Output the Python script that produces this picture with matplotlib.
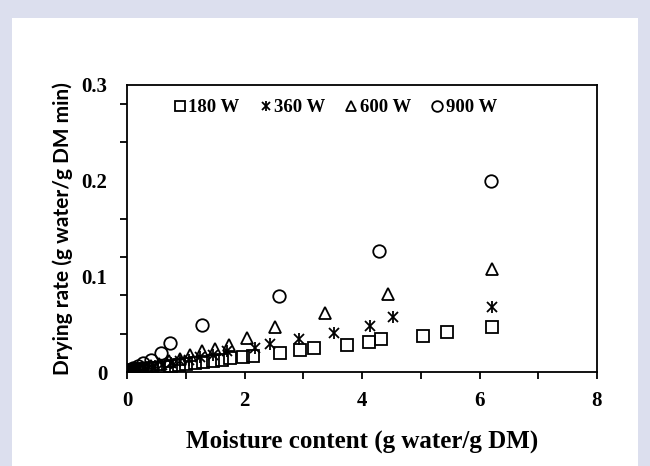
import matplotlib.pyplot as plt
from matplotlib.patches import Rectangle
from matplotlib.legend_handler import HandlerTuple
import numpy as np

# -------------------------
# Data
# -------------------------
x_180 = [6.21, 5.44, 5.03, 4.33, 4.12, 3.74, 3.18, 2.94, 2.60, 2.14, 1.97, 1.75, 1.61, 1.46,
         1.29, 1.15, 1.00, 0.88, 0.75, 0.63, 0.52, 0.42, 0.33, 0.25, 0.18, 0.12, 0.07, 0.03, 0.01]
y_180 = [0.047, 0.042, 0.038, 0.034, 0.031, 0.028, 0.025, 0.023, 0.020, 0.017, 0.016, 0.015, 0.013, 0.012,
         0.010, 0.009, 0.008, 0.007, 0.006, 0.005, 0.0045, 0.004, 0.0035, 0.003, 0.0025, 0.002, 0.0015, 0.001, 0.0005]

x_360 = [6.21, 4.53, 4.13, 3.52, 2.92, 2.43, 2.18, 1.70, 1.46, 1.25, 1.05, 0.90, 0.75, 0.60,
         0.48, 0.37, 0.28, 0.20, 0.13, 0.07, 0.03]
y_360 = [0.068, 0.058, 0.048, 0.041, 0.035, 0.029, 0.025, 0.022, 0.018, 0.016, 0.013, 0.011, 0.009, 0.007,
         0.006, 0.005, 0.004, 0.003, 0.002, 0.0015, 0.001]

x_600 = [6.21, 4.44, 3.37, 2.52, 2.04, 1.74, 1.50, 1.27, 1.07, 0.90, 0.72, 0.55, 0.40, 0.28, 0.17, 0.09, 0.04]
y_600 = [0.108, 0.082, 0.062, 0.047, 0.036, 0.028, 0.024, 0.022, 0.018, 0.014, 0.011, 0.008, 0.006, 0.004,
         0.003, 0.002, 0.001]

x_900 = [6.19, 4.29, 2.59, 1.28, 0.73, 0.58, 0.41, 0.28, 0.18, 0.10, 0.05, 0.02]
y_900 = [0.200, 0.126, 0.079, 0.049, 0.030, 0.020, 0.013, 0.009, 0.006, 0.004, 0.002, 0.001]

series_labels = ['180 W', '360 W', '600 W', '900 W']
y_tick_labels = ['0', '0.1', '0.2', '0.3']
y_tick_vals = [0, 0.1, 0.2, 0.3]
x_tick_vals = [0, 2, 4, 6, 8]

# -------------------------
# Figure setup
# -------------------------
fig = plt.figure(figsize=(6.5, 4.66), dpi=100, facecolor='#dcdfee')
fig.patches.append(Rectangle((12 / 650, 0), 626 / 650, 448 / 466, transform=fig.transFigure,
                             facecolor='white', edgecolor='none', zorder=-10))

ax = fig.add_axes([127 / 650, 1 - 372 / 466, 470 / 650, 287 / 466])
ax.set_zorder(5)
ax.set_facecolor('white')

serif = 'Liberation Serif'
mk = dict(linestyle='none', color='black', markerfacecolor='none', markeredgewidth=1.3)

h1, = ax.plot(x_180, y_180, marker='s', markersize=8.5, **mk)
h2a, = ax.plot(x_360, y_360, marker='x', markersize=7, **mk)
h2b, = ax.plot(x_360, y_360, marker='|', markersize=8, **mk)
h3, = ax.plot(x_600, y_600, marker='^', markersize=9, **mk)
h4, = ax.plot(x_900, y_900, marker='o', markersize=9, **mk)

ax.set_xlim(0, 8)
ax.set_ylim(0, 0.3)

# y axis: labels every 0.1, tick marks every 0.04
ax.set_yticks(y_tick_vals)
ax.set_yticklabels(y_tick_labels)
ax.set_yticks(np.arange(0, 0.3, 0.04), minor=True)
ax.tick_params(axis='y', which='major', length=0, pad=14)
ax.tick_params(axis='y', which='minor', length=5, width=1.3, direction='out')

ax.set_xticks(x_tick_vals)
ax.set_xticks([1, 3, 5, 7], minor=True)
ax.tick_params(axis='x', which='both', length=5, width=1.3, direction='out', pad=9)

for lab in ax.get_xticklabels() + ax.get_yticklabels():
    lab.set_fontfamily(serif)
    lab.set_fontweight('bold')
    lab.set_fontsize(15)

for s in ax.spines.values():
    s.set_linewidth(1.3)

ax.set_xlabel('Moisture content (g water/g DM)', fontfamily=serif, fontweight='bold',
              fontsize=18, labelpad=13)
ax.set_ylabel('Drying rate (g water/g DM min)', fontfamily='Lato', fontweight='bold',
              fontsize=15, labelpad=6)

leg = ax.legend([h1, (h2a, h2b), h3, h4], series_labels,
                handler_map={tuple: HandlerTuple(ndivide=1, pad=0)},
                loc='upper left', bbox_to_anchor=(0.064, 1.01), ncol=4, frameon=False,
                handlelength=0.6, handletextpad=0.15, columnspacing=1.1, markerscale=0.85,
                prop={'family': serif, 'weight': 'bold', 'size': 13.5})

plt.savefig('out.png', dpi=100, facecolor=fig.get_facecolor())
plt.close()
